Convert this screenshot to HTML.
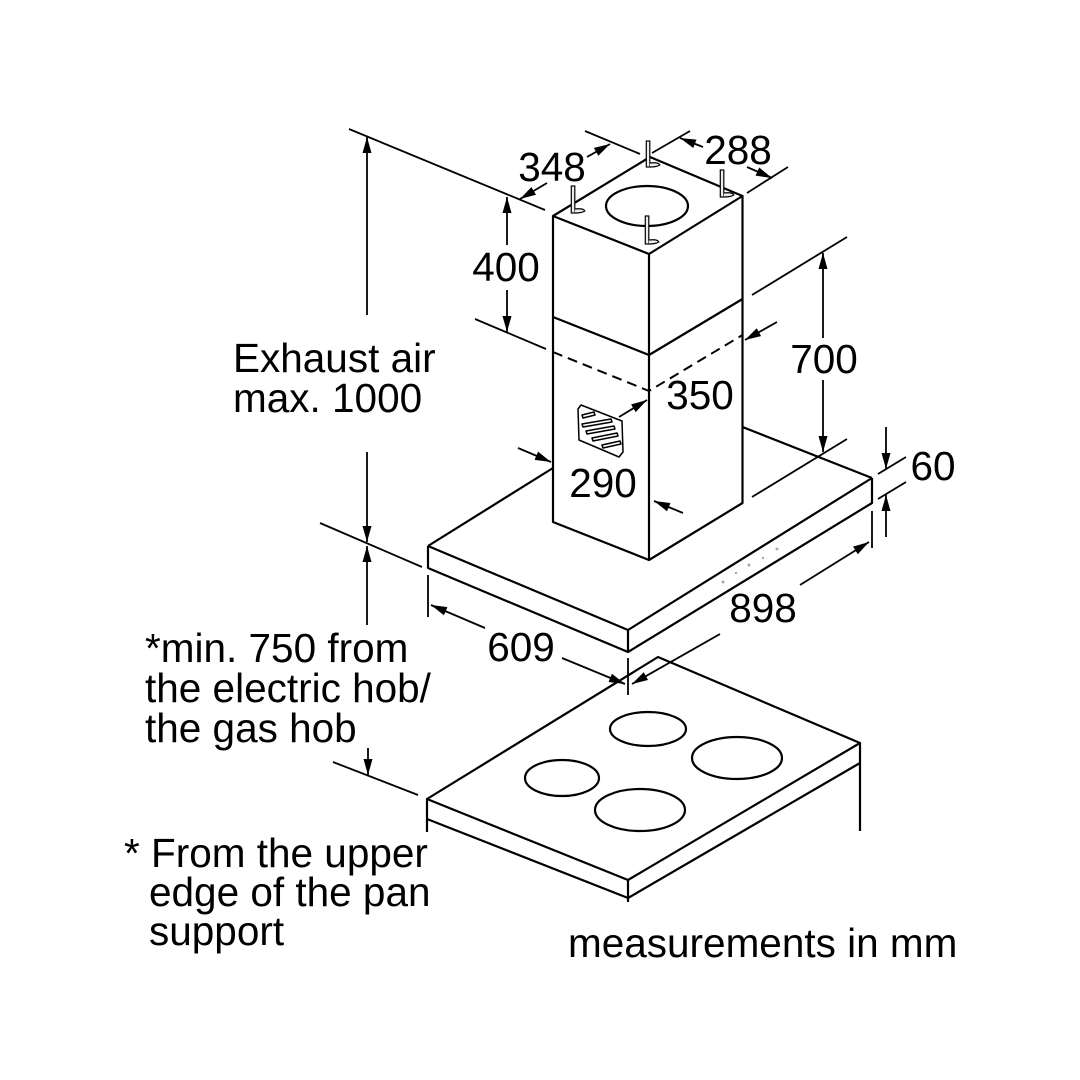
<!DOCTYPE html>
<html>
<head>
<meta charset="utf-8">
<style>
  html, body { margin: 0; padding: 0; background: #fff; }
  svg { display: block; }
  text { font-family: "Liberation Sans", Arial, sans-serif; font-size: 40.5px; fill: #000; }
</style>
</head>
<body>
<svg width="1080" height="1080" viewBox="0 0 1080 1080" xmlns="http://www.w3.org/2000/svg">
  <defs>
    <marker id="a" viewBox="0 0 16 9" refX="16" refY="4.5" markerWidth="16" markerHeight="9" markerUnits="userSpaceOnUse" orient="auto">
      <path d="M0,0 L16,4.5 L0,9 Z" fill="#000"/>
    </marker>
  </defs>
  <rect width="1080" height="1080" fill="#fff"/>

  <!-- HOB -->
  <g fill="none" stroke="#000" stroke-width="2.2" stroke-linejoin="round">
    <path d="M658,657 L860,743 L628,880 L427,799 Z"/>
    <path d="M427,799 V832"/>
    <path d="M427,819 L628,898 L860,763"/>
    <path d="M628,880 V902"/>
    <path d="M860,743 V831"/>
    <ellipse cx="648" cy="729" rx="38" ry="17"/>
    <ellipse cx="737" cy="758" rx="45" ry="21"/>
    <ellipse cx="562" cy="778" rx="37" ry="18"/>
    <ellipse cx="640" cy="810" rx="45" ry="21"/>
  </g>

  <!-- HOOD -->
  <g fill="none" stroke="#000" stroke-width="2.2" stroke-linejoin="round">
    <path d="M428,546 L553,468"/>
    <path d="M742.5,427 L872,478"/>
    <path d="M428,546 L628,630 L872,478"/>
    <path d="M428,546 V568 L628,652 L872,503 V478"/>
    <path d="M628,630 V652"/>
  </g>
  <g fill="#aaa">
    <circle cx="723" cy="582" r="1.5"/>
    <circle cx="736" cy="573" r="1.2"/>
    <circle cx="749" cy="565" r="1.5"/>
    <circle cx="763" cy="558" r="1.2"/>
    <circle cx="777" cy="549" r="1.5"/>
  </g>

  <!-- CHIMNEY -->
  <g fill="none" stroke="#000" stroke-width="2.2" stroke-linejoin="round">
    <path d="M650,157 L742.5,196 L649,254 L553,216 Z" fill="#fff"/>
    <path d="M553,216 V522 L649,560 L742.5,503 V196"/>
    <path d="M649,254 V560"/>
    <path d="M553,317 L649,355 L742.5,299"/>
    <ellipse cx="647" cy="206" rx="41" ry="20"/>
  </g>
  <path d="M553,352 L649,391 L742.5,335" fill="none" stroke="#000" stroke-width="2" stroke-dasharray="10,6"/>

  <!-- pins on top -->
  <g fill="#eee" stroke="#000" stroke-width="1.2">
    <rect x="646.3" y="141" width="3.5" height="26"/>
    <path d="M649.8,163 q9,-1 10,2 q-3,2 -10,2" />
    <rect x="571.3" y="186" width="3.5" height="27"/>
    <path d="M574.8,209 q9,-1 10,2 q-3,2 -10,2" />
    <rect x="720.3" y="170" width="3.5" height="27"/>
    <path d="M723.8,193 q9,-1 10,2 q-3,2 -10,2" />
    <rect x="645.3" y="216" width="3.5" height="28"/>
    <path d="M648.8,240 q9,-1 10,2 q-3,2 -10,2" />
  </g>

  <!-- vent grille -->
  <g fill="none" stroke="#000" stroke-width="1.5" stroke-linejoin="round">
    <path d="M578,409 L581,405 L622,421 L623,452 L619,457 L579,440 Z"/>
    <path d="M582,415 L594,412 L595,415 L583,418 Z"/>
    <path d="M582,424 L611,419 L612,422 L583,427 Z"/>
    <path d="M586,431 L614,426 L615,429 L587,434 Z"/>
    <path d="M592,438 L617,433 L618,436 L593,441 Z"/>
    <path d="M602,445 L620,441 L621,444 L603,448 Z"/>
  </g>

  <!-- EXTENSION LINES -->
  <g fill="none" stroke="#000" stroke-width="1.8">
    <path d="M349,129 L545,210"/>
    <path d="M585,131 L640,154"/>
    <path d="M652,153 L690,131"/>
    <path d="M747,193 L788,167"/>
    <path d="M475,319 L546,349"/>
    <path d="M752,295 L847,237"/>
    <path d="M752,497 L847,439"/>
    <path d="M878,474 L906,457"/>
    <path d="M878,499 L906,482"/>
    <path d="M320,523 L422,567"/>
    <path d="M333,762 L418,795"/>
    <path d="M428,575 V617"/>
    <path d="M628,658 V695"/>
    <path d="M872,511 V548"/>
  </g>

  <!-- DIMENSION ARROWS -->
  <g fill="none" stroke="#000" stroke-width="1.8" marker-end="url(#a)">
    <path d="M547,183 L520,199"/>
    <path d="M587,157 L610,144"/>
    <path d="M703,147 L680,138"/>
    <path d="M747,167 L772,178"/>
    <path d="M507,245 L507,197"/>
    <path d="M507,290 L507,332"/>
    <path d="M367,315 L367,137"/>
    <path d="M367,452 L367,542"/>
    <path d="M367,625 L367,546"/>
    <path d="M368,748 L368,775"/>
    <path d="M823,338 L823,253"/>
    <path d="M823,380 L823,452"/>
    <path d="M886,427 L886,469"/>
    <path d="M886,537 L886,495"/>
    <path d="M777,322 L745,340"/>
    <path d="M619,417 L647,400"/>
    <path d="M518,448 L551,462"/>
    <path d="M683,513 L654,501"/>
    <path d="M485,628 L431,605"/>
    <path d="M562,658 L625,684"/>
    <path d="M800,585 L869,542"/>
    <path d="M720,634 L632,684"/>
  </g>

  <!-- DIMENSION LABELS -->
  <text x="552" y="181" text-anchor="middle">348</text>
  <text x="738" y="164" text-anchor="middle">288</text>
  <text x="506" y="281" text-anchor="middle">400</text>
  <text x="824" y="373" text-anchor="middle">700</text>
  <text x="700" y="409" text-anchor="middle">350</text>
  <text x="603" y="497" text-anchor="middle">290</text>
  <text x="933" y="480" text-anchor="middle">60</text>
  <text x="763" y="622" text-anchor="middle">898</text>
  <text x="521" y="661" text-anchor="middle">609</text>

  <!-- NOTES -->
  <text x="233" y="372">Exhaust air</text>
  <text x="233" y="412">max. 1000</text>
  <text x="145" y="662">*min. 750 from</text>
  <text x="145" y="702">the electric hob/</text>
  <text x="145" y="742">the gas hob</text>
  <text x="124" y="867">* From the upper</text>
  <text x="149" y="906">edge of the pan</text>
  <text x="149" y="945">support</text>
  <text x="568" y="957">measurements in mm</text>
</svg>
</body>
</html>
